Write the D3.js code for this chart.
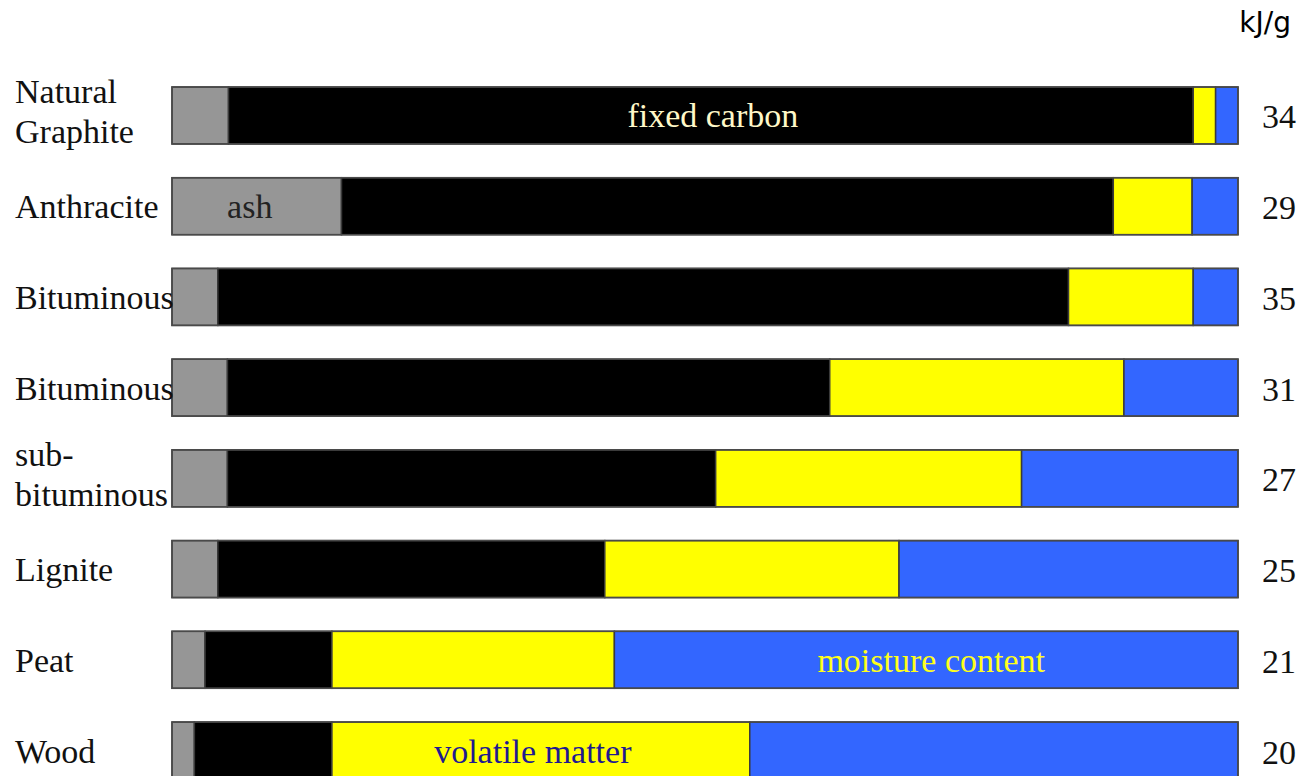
<!DOCTYPE html>
<html>
<head>
<meta charset="utf-8">
<script src="https://cdn.jsdelivr.net/npm/d3@7"></script>
<style>
  html, body { margin: 0; padding: 0; background: #fff; }
  svg { display: block; }
  .serif { font-family: "Liberation Serif"; font-size: 34px; }
  .unit { font-family: "Comic Sans MS", "DejaVu Sans", sans-serif; font-size: 28px; }
</style>
</head>
<body>
<div class="chart"></div>
<script>
// coal types, top to bottom (lines split where the label wraps)
const fuels = [["Natural", "Graphite"], ["Anthracite"], ["Bituminous"], ["Bituminous"],
               ["sub-", "bituminous"], ["Lignite"], ["Peat"], ["Wood"]];

// composition, % of total
const ash         = [5.3, 15.9, 4.3, 5.2, 5.2, 4.3, 3.1, 2.1];
const fixedCarbon = [90.5, 72.4, 79.8, 56.5, 45.8, 36.3, 11.9, 12.9];
const volatile    = [2.1, 7.4, 11.7, 27.6, 28.7, 27.6, 26.5, 39.2];
const moisture    = [2.1, 4.3, 4.2, 10.7, 20.3, 31.8, 58.5, 45.8];

// heating value, kJ/g
const energy = [34, 29, 35, 31, 27, 25, 21, 20];
const unitLabel = "kJ/g";

// names written inside the bars: [text, row index, component]
const segmentLabels = [
  ["fixed carbon", 0, "fixedCarbon"],
  ["ash", 1, "ash"],
  ["moisture content", 6, "moisture"],
  ["volatile matter", 7, "volatile"]
];

const keys = ["ash", "fixedCarbon", "volatile", "moisture"];
const fills = { ash: "#969696", fixedCarbon: "#000000", volatile: "#ffff00", moisture: "#3366ff" };
const labelColors = { ash: "#222222", fixedCarbon: "#fff8c8", volatile: "#1f1a8f", moisture: "#ffff1a" };
// small nudges so the in-bar names sit where the original put them
const labelNudge = { ash: -7, fixedCarbon: 2, volatile: -8, moisture: 5 };

const w = 1305, h = 776;

const rows = fuels.map((f, i) => ({
  i: i, ash: ash[i], fixedCarbon: fixedCarbon[i], volatile: volatile[i], moisture: moisture[i]
}));

const xScale = d3.scaleLinear().domain([0, 100]).range([172, 1238]);
const yScale = d3.scaleBand()
                 .domain(d3.range(fuels.length))
                 .range([87, 779])
                 .paddingInner(0.372)
                 .paddingOuter(0);

const svg = d3.select(".chart")
              .append("svg")
              .attr("width", w)
              .attr("height", h);

const stacked = d3.stack().keys(keys)(rows);

/* stacked segments */
svg.selectAll("g.layer")
  .data(stacked)
  .enter()
  .append("g")
  .attr("class", "layer")
  .attr("fill", d => fills[d.key])
  .selectAll("rect")
  .data(d => d)
  .enter()
  .append("rect")
  .attr("x", d => xScale(d[0]))
  .attr("y", d => yScale(d.data.i))
  .attr("width", d => xScale(d[1]) - xScale(d[0]))
  .attr("height", yScale.bandwidth())
  .attr("stroke", "#3a3a3a")
  .attr("stroke-width", 1.5);

/* outline on top */
svg.selectAll("rect.outline")
  .data(rows)
  .enter()
  .append("rect")
  .attr("class", "outline")
  .attr("x", xScale(0))
  .attr("y", d => yScale(d.i))
  .attr("width", xScale(100) - xScale(0))
  .attr("height", yScale.bandwidth())
  .attr("fill", "none")
  .attr("stroke", "#4a4a4a")
  .attr("stroke-width", 1.5);

/* fuel names on the left */
const names = svg.selectAll("text.name")
  .data(fuels)
  .enter()
  .append("text")
  .attr("class", "name serif")
  .attr("x", 15)
  .attr("fill", "#111");

names.each(function(lines, i) {
  const cy = yScale(i) + yScale.bandwidth() / 2;
  const first = lines.length > 1 ? cy - 12 : cy + 12;
  d3.select(this).selectAll("tspan")
    .data(lines)
    .enter()
    .append("tspan")
    .attr("x", 15)
    .attr("y", (l, j) => first + j * 40)
    .text(l => l);
});

/* heating values on the right */
svg.selectAll("text.energy")
  .data(energy)
  .enter()
  .append("text")
  .attr("class", "energy serif")
  .attr("x", 1262)
  .attr("y", (d, i) => yScale(i) + yScale.bandwidth() / 2 + 13)
  .attr("fill", "#111")
  .text(d => d);

svg.append("text")
  .attr("class", "unit")
  .attr("x", 1291)
  .attr("y", 32)
  .attr("text-anchor", "end")
  .attr("fill", "#000")
  .text(unitLabel);

/* component names inside the bars */
svg.selectAll("text.seg")
  .data(segmentLabels)
  .enter()
  .append("text")
  .attr("class", "seg serif")
  .attr("x", d => {
    const layer = stacked[keys.indexOf(d[2])][d[1]];
    return (xScale(layer[0]) + xScale(layer[1])) / 2 + labelNudge[d[2]];
  })
  .attr("y", d => yScale(d[1]) + yScale.bandwidth() / 2 + 12)
  .attr("text-anchor", "middle")
  .attr("fill", d => labelColors[d[2]])
  .text(d => d[0]);
</script>
</body>
</html>
